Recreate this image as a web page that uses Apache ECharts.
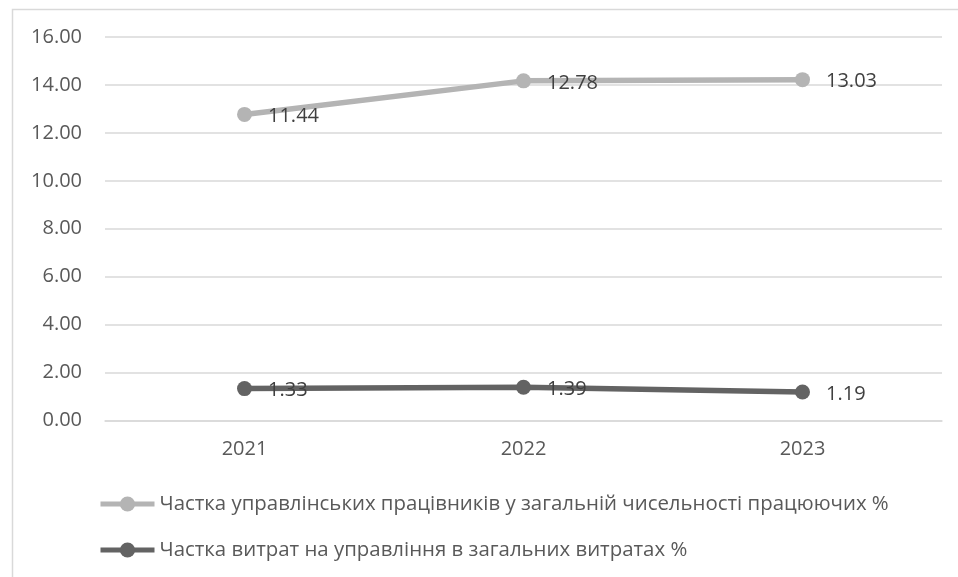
<!DOCTYPE html>
<html>
<head>
<meta charset="utf-8">
<script src="https://cdn.jsdelivr.net/npm/echarts@6/dist/echarts.min.js"></script>
<style>html,body{margin:0;padding:0;background:#fff}#c{width:958px;height:577px}</style>
</head>
<body>
<div id="c"></div>
<script>
const categories = ['2021', '2022', '2023'];
const managersShare = [11.44, 12.78, 13.03];
const costsShare = [1.33, 1.39, 1.19];
const seriesNames = [
  'Частка управлінських працівників у загальній чисельності працюючих %',
  'Частка витрат на управління в загальних витратах %'
];
const yTicks = { min: 0, max: 16, interval: 2 };

const FONT = 'Open Sans';
const chart = echarts.init(document.getElementById('c'), null, { renderer: 'canvas' });
chart.setOption({
  backgroundColor: '#fff',
  animation: false,
  textStyle: { fontFamily: FONT },
  graphic: [{
    type: 'rect', left: 10, top: 7, silent: true,
    shape: { width: 1000, height: 700 },
    style: { fill: 'none', stroke: '#d9d9d9', lineWidth: 1.5 }
  }],
  grid: { left: 105, right: 16, top: 37, bottom: 156.5, containLabel: false },
  legend: {
    orient: 'vertical', left: 98, top: 494, padding: 0,
    data: [seriesNames[0], seriesNames[1]],
    itemWidth: 54, itemHeight: 19, itemGap: 26,
    lineStyle: { width: 5 },
    textStyle: { fontFamily: FONT, fontSize: 20.4, color: '#595959', lineHeight: 20 }
  },
  xAxis: {
    type: 'category', data: categories, boundaryGap: true,
    axisLine: { show: true, lineStyle: { color: '#d9d9d9', width: 1.5 } },
    axisTick: { show: false },
    axisLabel: { color: '#595959', fontSize: 20, margin: 19, fontFamily: FONT }
  },
  yAxis: {
    type: 'value', min: yTicks.min, max: yTicks.max, interval: yTicks.interval,
    axisLine: { show: false }, axisTick: { show: false },
    splitLine: { lineStyle: { color: '#d9d9d9', width: 1.5 } },
    axisLabel: { color: '#595959', fontSize: 20, margin: 23, fontFamily: FONT,
      formatter: v => v.toFixed(2) }
  },
  series: [
    {
      name: seriesNames[1], type: 'line', stack: 'total', data: costsShare,
      symbol: 'circle', symbolSize: 15,
      lineStyle: { color: '#636363', width: 5.5 },
      itemStyle: { color: '#636363' },
      label: { show: true, position: 'right', distance: 16, offset: [0, 2],
        color: '#404040', fontSize: 20, fontFamily: FONT, formatter: p => p.value.toFixed(2) }
    },
    {
      name: seriesNames[0], type: 'line', stack: 'total', data: managersShare,
      symbol: 'circle', symbolSize: 15,
      lineStyle: { color: '#b4b4b4', width: 5.5 },
      itemStyle: { color: '#b4b4b4' },
      label: { show: true, position: 'right', distance: 16, offset: [0, 2],
        color: '#404040', fontSize: 20, fontFamily: FONT, formatter: p => p.value.toFixed(2) }
    }
  ]
});
</script>
</body>
</html>
